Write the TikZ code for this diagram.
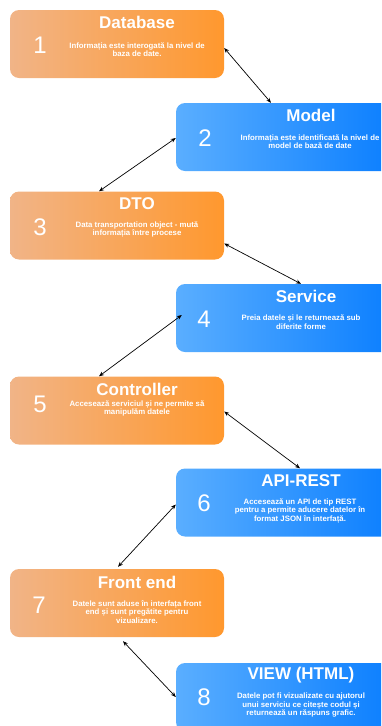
\documentclass[tikz,border=0pt]{standalone}
\usepackage{fontspec}
\setmainfont{Liberation Sans}
\usepackage{tikz}
\usetikzlibrary{arrows.meta}

\definecolor{orgL}{RGB}{241,180,135}
\definecolor{orgR}{RGB}{255,152,46}
\definecolor{bluL}{RGB}{90,174,255}
\definecolor{bluR}{RGB}{10,126,255}

\begin{document}
\begin{tikzpicture}[x=1pt, y=-1pt,
    orangebox/.style={rectangle, rounded corners=9pt, left color=orgL, right color=orgR, minimum width=214pt, minimum height=68pt, inner sep=0pt},
    bluebox/.style={rectangle, rounded corners=9pt, left color=bluL, right color=bluR, minimum width=220pt, minimum height=68pt, inner sep=0pt},
    ttl/.style={text=white, font=\fontsize{17}{20}\selectfont\bfseries, inner sep=0pt},
    num/.style={text=white, font=\fontsize{24}{28}\selectfont, inner sep=0pt},
    desc/.style={text=white, align=center, font=\fontsize{7.8}{8.5}\selectfont\bfseries, inner sep=0pt},
    link/.style={{Stealth[length=5pt,width=4pt]}-{Stealth[length=5pt,width=4pt]}, line width=0.7pt, black}]
    \useasboundingbox (0,0) rectangle (381,726);
    \clip (0,0) rectangle (381,726);

    % Boxes
    \node[orangebox] (db) at (117,44) {};
    \node[bluebox] (model) at (286,137) {};
    \node[orangebox] (dto) at (117,225.5) {};
    \node[bluebox] (svc) at (286,318) {};
    \node[orangebox] (ctrl) at (117,410.5) {};
    \node[bluebox] (api) at (286,502.5) {};
    \node[orangebox] (front) at (117,603) {};
    \node[bluebox] (view) at (286,697) {};

    % Titles
    \node[ttl] (dbT) at (137,22.5) {Database};
    \node[ttl] (modelT) at (311,115.5) {Model};
    \node[ttl] (dtoT) at (137,204) {DTO};
    \node[ttl] (svcT) at (306,296) {Service};
    \node[ttl] (ctrlT) at (137,389) {Controller};
    \node[ttl] (apiT) at (301,481) {API-REST};
    \node[ttl] (frontT) at (137,582) {Front end};
    \node[ttl] (viewT) at (301,675) {VIEW (HTML)};

    % Numbers
    \node[num] (dbN) at (40,45) {1};
    \node[num] (modelN) at (205,138) {2};
    \node[num] (dtoN) at (40,227) {3};
    \node[num] (svcN) at (204,319) {4};
    \node[num] (ctrlN) at (40,404) {5};
    \node[num] (apiN) at (204,503) {6};
    \node[num] (frontN) at (39,605) {7};
    \node[num] (viewN) at (204,697) {8};

    % Descriptions
    \node[desc] (dbD) at (137,49.5) {Informația este interogată la nivel de\\baza de date.};
    \node[desc] (modelD) at (310,141.5) {Informația este identificată la nivel de\\model de bază de date};
    \node[desc] (dtoD) at (137,229.5) {Data transportation object - mută\\informația între procese};
    \node[desc] (svcD) at (301,322) {Preia datele și le returnează sub\\diferite forme};
    \node[desc] (ctrlD) at (137,408.5) {Accesează serviciul și ne permite să\\manipulăm datele};
    \node[desc] (apiD) at (300,511) {Accesează un API de tip REST\\pentru a permite aducere datelor în\\format JSON în interfață.};
    \node[desc] (frontD) at (137,612) {Datele sunt aduse în interfața front\\end și sunt pregătite pentru\\vizualizare.};
    \node[desc] (viewD) at (301,705) {Datele pot fi vizualizate cu ajutorul\\unui serviciu ce citește codul și\\returnează un răspuns grafic.};

    % Links
    \draw[link] ([yshift=-4pt]db.east) -- ([xshift=-15pt]model.north);
    \draw[link] ([yshift=-1pt]model.west) -- ([xshift=-18pt]dto.north);
    \draw[link] ([yshift=-18pt]dto.east) -- ([xshift=15pt]svc.north);
    \draw[link] ([xshift=6pt,yshift=3pt]svc.west) -- ([xshift=-18pt]ctrl.north);
    \draw[link] ([yshift=-1pt]ctrl.east) -- ([xshift=14pt]api.north);
    \draw[link] ([yshift=-2pt]api.west) -- ([xshift=1pt,yshift=2pt]front.north);
    \draw[link] ([xshift=6pt,yshift=-4pt]front.south) -- (view.west);
\end{tikzpicture}
\end{document}
